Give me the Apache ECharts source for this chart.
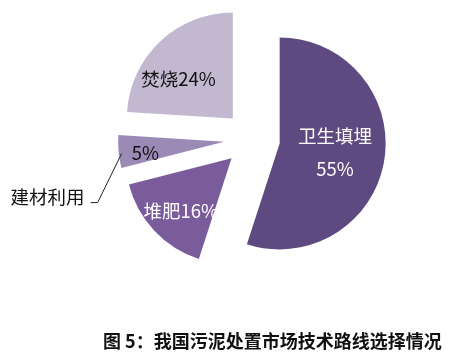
<!DOCTYPE html>
<html>
<head>
<meta charset="utf-8">
<script src="https://cdn.jsdelivr.net/npm/echarts@6/dist/echarts.min.js"></script>
<style>
html,body{margin:0;padding:0;background:#fff;}
#chart{width:475px;height:360px;}
</style>
</head>
<body>
<div id="chart"></div>
<script>
// ---- data ----
var categories = ['卫生填埋', '堆肥', '建材利用', '焚烧'];
var shares = [55, 16, 5, 24];
var titleText = '图 5：我国污泥处置市场技术路线选择情况';

// ---- styling ----
var colors = ['#5e4a80', '#7a5c9c', '#9b8ab6', '#c2b9d1'];
var labelColors = ['#ffffff', '#ffffff', '#111111', '#111111'];
var labelShift = [[0, 0], [-10, 14], [-23, 6], [-16, 1]];
var CJK = '"Noto Sans CJK SC", "Microsoft YaHei", sans-serif';
var cx = 252, cy = 139, R = 106, OFF = 28;

var chart = echarts.init(document.getElementById('chart'), null, {renderer: 'canvas'});

var mainData = categories.map(function (name, i) {
  return {
    name: name,
    value: shares[i],
    selected: true,
    itemStyle: {color: colors[i]},
    label: {
      color: labelColors[i],
      formatter: i === 0 ? '{b}\n{c}%' : (i === 2 ? '{c}%' : '{b}{c}%'),
      lineHeight: i === 0 ? 33 : 20
    }
  };
});

var total = shares.reduce(function (a, b) { return a + b; }, 0);
function midAngleOf(idx) {
  var before = 0;
  for (var k = 0; k < idx; k++) before += shares[k];
  return (before + shares[idx] / 2) / total * 2 * Math.PI; // clockwise from top
}

var overlayData = categories.map(function (name, i) {
  return {
    name: name,
    value: shares[i],
    itemStyle: {color: 'rgba(0,0,0,0)'},
    label: {show: i === 2},
    labelLine: {show: i === 2}
  };
});

chart.setOption({
  animation: false,
  title: {
    text: titleText,
    left: 98,
    top: 327,
    textStyle: {fontFamily: CJK, fontSize: 18, fontWeight: 'bold', color: '#111'}
  },
  series: [
    {
      type: 'pie',
      center: [cx, cy],
      radius: R,
      startAngle: 90,
      clockwise: true,
      selectedMode: 'multiple',
      selectedOffset: OFF,
      avoidLabelOverlap: false,
      silent: true,
      emphasis: {disabled: true},
      label: {position: 'inside', fontFamily: CJK, fontSize: 18.5},
      labelLine: {show: false},
      labelLayout: function (p) {
        var s = labelShift[p.dataIndex];
        return {dx: s[0], dy: s[1]};
      },
      data: mainData
    },
    {
      type: 'pie',
      center: [cx, cy],
      radius: R,
      startAngle: 90,
      clockwise: true,
      selectedMode: false,
      avoidLabelOverlap: false,
      silent: true,
      emphasis: {disabled: true},
      z: 3,
      label: {position: 'outside', formatter: '{b}', fontFamily: CJK, fontSize: 18.5, color: '#111'},
      labelLine: {show: false, lineStyle: {color: '#222', width: 1}, length: 10, length2: 10},
      labelLayout: function (p) {
        if (p.dataIndex !== 2) return {};
        var a = midAngleOf(2);
        var sx = cx + (R + OFF) * Math.sin(a) + 3;
        var sy = cy - (R + OFF) * Math.cos(a) + 2;
        var bx = sx - 24, by = sy + 49;
        var ex = bx - 7;
        return {
          x: ex - 6,
          y: by - 6,
          align: 'right',
          verticalAlign: 'middle',
          labelLinePoints: [[sx, sy], [bx, by], [ex, by]]
        };
      },
      data: overlayData
    }
  ]
});
</script>
</body>
</html>
